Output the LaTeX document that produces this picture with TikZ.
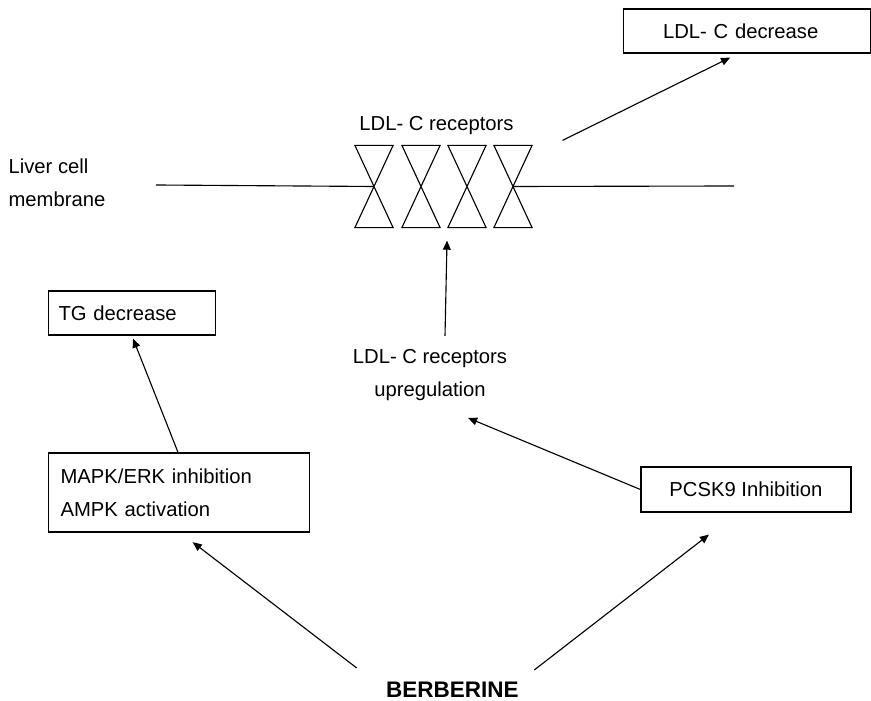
\documentclass[tikz,border=0pt]{standalone}
\usepackage{fontspec}
\setmainfont{Liberation Sans}
\usetikzlibrary{arrows.meta}

\begin{document}
\begin{tikzpicture}[x=0.025cm, y=-0.025cm, line width=0.8pt,
    every node/.style={font=\fontsize{14.4}{23.5}\selectfont, inner sep=0pt},
    box/.style={draw, line width=0.8pt},
    arr/.style={-{Triangle[length=6.5pt,width=5.5pt]}},
    recep/.style={minimum width=0.925cm, minimum height=2.025cm}]
    \useasboundingbox (0,0) rectangle (871,701);

    % membrane with the receptors
    \node[anchor=north west, align=left] (liver) at (8,158.5) {Liver cell\\membrane};
    \foreach \i/\x in {1/374, 2/421, 3/467, 4/513}
      \node[recep] (r\i) at (\x,186.5) {};
    \foreach \i in {1,...,4}
      \draw (r\i.north west) -- (r\i.north east) -- (r\i.south west) -- (r\i.south east) -- cycle;
    \coordinate (ml) at (156,185);
    \coordinate (mr) at (734,186);
    \draw (ml) -- (r1.center);
    \draw (r4.center) -- (mr);
    \node[anchor=base] (recl) at (436.5,131) {LDL- C receptors};

    % boxes and labels
    \node[box, anchor=west, inner xsep=1cm, text width=4.175cm, align=left, minimum height=1.1cm] (ldldec) at (622.5,31) {LDL- C decrease};
    \node[box, anchor=west, inner xsep=0.25cm, text width=3.675cm, align=left, minimum height=1.1cm] (tgdec) at (48,313) {TG decrease};
    \node[box, anchor=west, inner xsep=0.3cm, text width=5.925cm, align=left, minimum height=1.975cm] (mapk) at (48,492.5) {MAPK/ERK inhibition\\AMPK activation};
    \node[box, minimum width=5.25cm, minimum height=1.125cm] (pcsk9) at (746,489.5) {PCSK9 Inhibition};
    \node[anchor=north, align=center] (upreg) at (430,349) {LDL- C receptors\\upregulation};
    \node[anchor=base, font=\fontsize{16}{19}\selectfont\bfseries] (berb) at (452.5,698) {BERBERINE};

    % arrows
    \draw[arr] ([shift={(0.76cm,0.125cm)}]r4.north east) -- ([shift={(-0.41cm,-0.1cm)}]ldldec.south);
    \draw[arr] ([shift={(0.375cm,0.325cm)}]upreg.north) -- ([shift={(0.65cm,-0.325cm)}]r2.south);
    \draw[arr] (pcsk9.west) -- ([shift={(0.95cm,-0.41cm)}]upreg.south);
    \draw[arr] ([xshift=3.25cm]mapk.north west) -- ([shift={(2.125cm,-0.075cm)}]tgdec.south west);
    \draw[arr] ([shift={(-0.725cm,0.35cm)}]berb.north west) -- ([shift={(0.34cm,-0.24cm)}]mapk.south);
    \draw[arr] ([shift={(0.375cm,0.3cm)}]berb.north east) -- ([shift={(-0.925cm,-0.55cm)}]pcsk9.south);
\end{tikzpicture}
\end{document}
